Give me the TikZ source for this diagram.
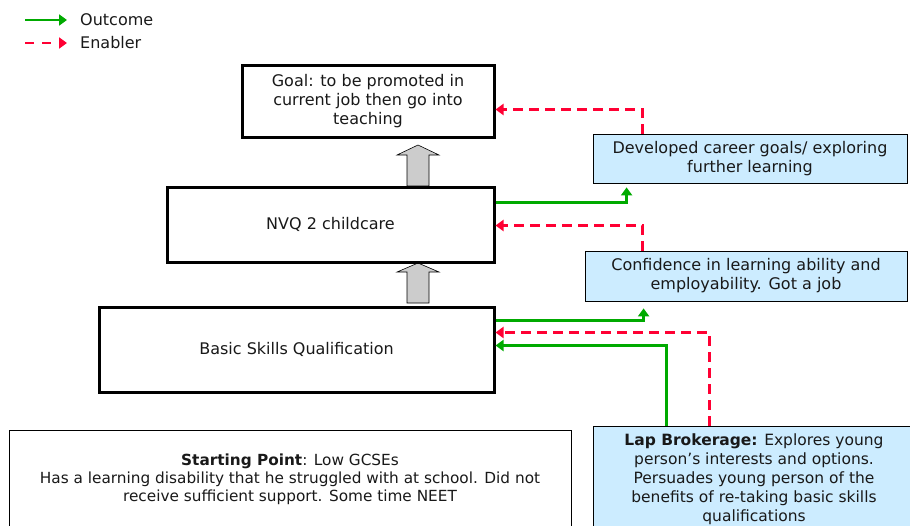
\documentclass[tikz,border=0pt]{standalone}
\usepackage{fontspec}
\setmainfont{DejaVu Sans}
\usetikzlibrary{arrows.meta,calc}
\definecolor{outgreen}{RGB}{0,170,0}
\definecolor{enred}{RGB}{255,0,51}
\definecolor{paleblue}{RGB}{204,236,255}
\definecolor{blockgray}{RGB}{204,204,204}
\definecolor{inkgray}{RGB}{25,25,25}
\begin{document}
\begin{tikzpicture}[x=1pt,y=-1pt,
  txt/.style={font=\fontsize{16}{19}\selectfont, text=inkgray},
  stage/.style={txt, draw=black, line width=3pt, fill=white, align=center, inner sep=0pt},
  factor/.style={txt, draw=black, line width=0.8pt, fill=paleblue, align=center, inner sep=0pt},
  origin/.style={draw=black, line width=0.8pt, fill=white, align=center, inner sep=0pt,
    font=\fontsize{15.3}{18}\selectfont, text=inkgray},
  tip/.style={-{Triangle[width=11pt,length=8pt]}},
  outcome/.style={tip, draw=outgreen, line width=2.5pt},
  enabler/.style={tip, draw=enred, line width=2.5pt, dash pattern=on 10pt off 6pt},
  lift/.style={draw=black, line width=0.6pt, fill=blockgray, line join=miter}]
\useasboundingbox (0,0) rectangle (910,525);

% legend
\coordinate (lgA) at (25,20);  \coordinate (lgB) at (67,20);
\coordinate (leA) at (25,43);  \coordinate (leB) at (67,43);
\draw[outcome] (lgA) -- (lgB);
\draw[enabler, dash pattern=on 9pt off 8pt] (leA) -- (leB);
\node[txt, anchor=west, inner sep=0pt] (lgT) at (80,20) {Outcome};
\node[txt, anchor=west, inner sep=0pt] (leT) at (80,43) {Enabler};

% progression arrows between the stages
\draw[lift] (407,186) -- (407,155) -- (397,155) -- (418,145) -- (439,155) -- (429,155) -- (429,186) -- cycle;
\draw[lift] (407,303) -- (407,272) -- (397,272) -- (418,263) -- (439,272) -- (429,272) -- (429,303) -- cycle;

% stages
\node[stage, minimum width=252, minimum height=72] (goal) at (368,101)
  {Goal: to be promoted in\\current job then go into\\teaching};
\node[stage, minimum width=327, minimum height=75] (nvq) at (330.5,224.5) {NVQ 2 childcare};
\node[stage, minimum width=395, minimum height=85] (basic) at (296.5,349.5) {Basic Skills Qualification};

% contributing factors
\node[factor, minimum width=314, minimum height=49] (dev) at (750,158.5)
  {Developed career goals/ exploring\\further learning};
\node[factor, minimum width=322, minimum height=50] (conf) at (746,276)
  {Confidence in learning ability and\\employability. Got a job};
\node[factor, minimum width=322, minimum height=106, font=\fontsize{15.5}{19}\selectfont] (lap) at (754,479)
  {\textbf{Lap Brokerage:} Explores young\\person’s interests and options.\\Persuades young person of the\\benefits of re-taking basic skills\\qualifications};
\node[origin, minimum width=562, minimum height=98] (start) at (290,479)
  {\textbf{Starting Point}: Low GCSEs\\Has a learning disability that he struggled with at school. Did not\\receive sufficient support. Some time NEET};

% outcomes and enablers
\draw[outcome] ($(nvq.north east)+(0,17)$) -| ($(dev.south west)+(34,4)$);
\draw[enabler] ($(dev.north west)+(50,0)$) |- ($(goal.north east)+(0,46)$);
\draw[enabler] ($(conf.north west)+(58,0)$) |- ($(nvq.north east)+(0,40)$);
\draw[outcome] ($(basic.north east)+(0,15)$) -| ($(conf.south west)+(59,7)$);
\draw[enabler] ($(lap.north west)+(117,0)$) |- ($(basic.north east)+(0,27)$);
\draw[outcome] ($(lap.north west)+(74,0)$) |- ($(basic.north east)+(0,40)$);
\end{tikzpicture}
\end{document}
